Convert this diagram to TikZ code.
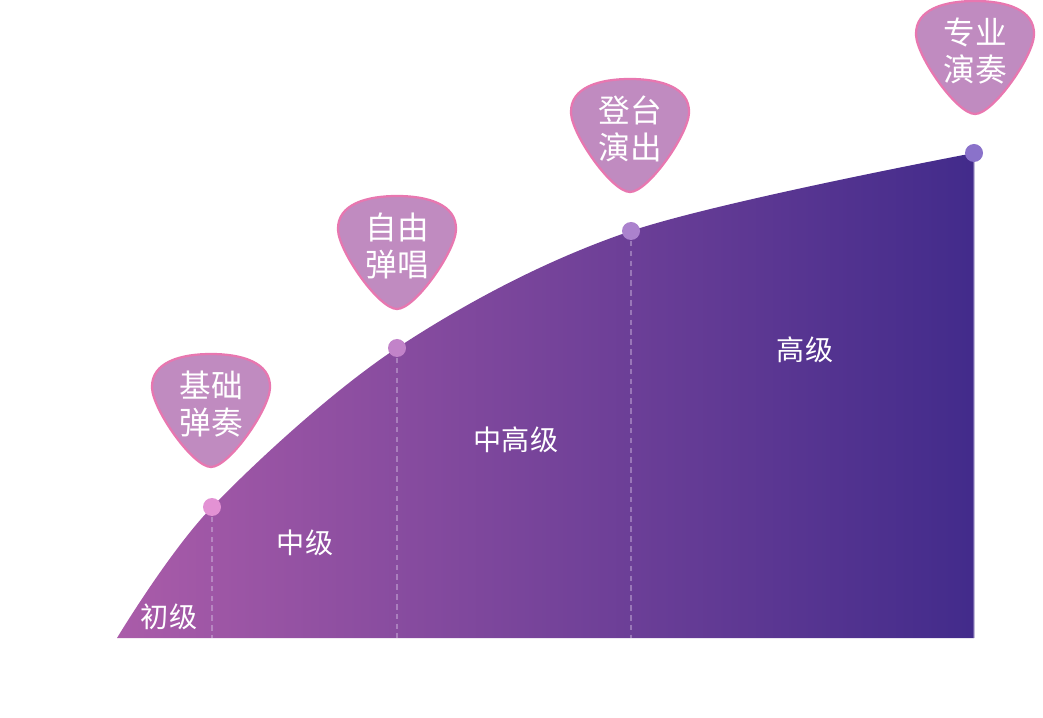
\documentclass[tikz,border=0pt]{standalone}
\usepackage{fontspec}
\setmainfont{Noto Sans CJK SC}
\usepackage{tikz}
\usetikzlibrary{calc}
\usetikzlibrary{positioning}
\definecolor{curveleft}{HTML}{AA5CA9}
\definecolor{curveright}{HTML}{422B8B}
\definecolor{pickfill}{HTML}{C08BC0}
\definecolor{pickline}{HTML}{E877B0}
\definecolor{dotA}{HTML}{E392D4}
\definecolor{dotB}{HTML}{C283C9}
\definecolor{dotC}{HTML}{AB82CD}
\definecolor{dotD}{HTML}{8A72CA}

% guitar pick outline around a centre point
\newcommand{\GuitarPick}[1]{%
\draw[MyPick] ($(#1)+(0,-57)$) .. controls ($(#1)+(18,-57)$) and ($(#1)+(58,0)$) .. ($(#1)+(59,22)$)
 .. controls ($(#1)+(60,48)$) and ($(#1)+(30,56)$) .. ($(#1)+(0,56)$)
 .. controls ($(#1)+(-30,56)$) and ($(#1)+(-60,48)$) .. ($(#1)+(-59,22)$)
 .. controls ($(#1)+(-58,0)$) and ($(#1)+(-18,-57)$) .. ($(#1)+(0,-57)$) -- cycle;}

\begin{document}
\begin{tikzpicture}[
x=0.025cm, y=0.025cm,
MyPick/.style={draw=pickline,fill=pickfill,line width=1.6pt},
MyDash/.style={draw=white!60!dotC,dash pattern=on 4pt off 3pt,opacity=0.4,line width=0.9pt},
PickText/.style={text=white,font=\fontsize{22.5}{26}\selectfont,align=center},
LevelText/.style={text=white,font=\fontsize{20}{24}\selectfont}
]
\useasboundingbox (0,0) rectangle (1043,717);

\coordinate (O) at (117,79);
\coordinate (A) at (212,210);
\coordinate (B) at (397,369);
\coordinate (C) at (631,486);
\coordinate (D) at (974,564);
\coordinate (E) at (974,79);

% area under the curve
\shade[left color=curveleft,right color=curveright]
 plot[smooth,tension=0.55] coordinates {(O) (A) (B) (C) (D)} -- (E) -- cycle;

\draw[MyDash] (A) -- (A|-O);
\draw[MyDash] (B) -- (B|-O);
\draw[MyDash] (C) -- (C|-O);
\draw[draw=white!50!curveright,line width=0.8pt,opacity=0.5] (D) -- (E);

\fill[dotA] (A) circle (9);
\fill[dotB] (B) circle (9);
\fill[dotC] (C) circle (9);
\fill[dotD] (D) circle (9);

\node[LevelText] (lvlA) at (169,100) {初级};
\node[LevelText] (lvlB) at (305,174) {中级};
\node[LevelText] (lvlC) at (516,277) {中高级};
\node[LevelText] (lvlD) at (805,367) {高级};

\coordinate (PA) at (211,307);
\coordinate (PB) at (397,465);
\coordinate (PC) at (630,582);
\coordinate (PD) at (975,660);

\GuitarPick{PA}
\GuitarPick{PB}
\GuitarPick{PC}
\GuitarPick{PD}

\node[PickText] (pickA) at ($(PA)+(0,6)$) {基础\\弹奏};
\node[PickText] (pickB) at ($(PB)+(0,6)$) {自由\\弹唱};
\node[PickText] (pickC) at ($(PC)+(0,6)$) {登台\\演出};
\node[PickText] (pickD) at ($(PD)+(0,6)$) {专业\\演奏};

\end{tikzpicture}
\end{document}
